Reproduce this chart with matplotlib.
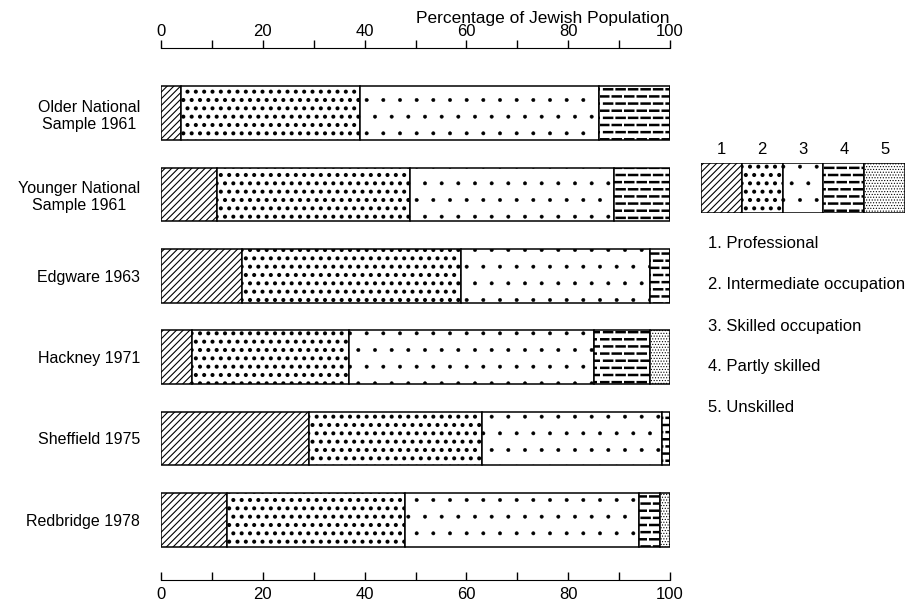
import numpy as np
import matplotlib
matplotlib.use('Agg')
import matplotlib.pyplot as plt
from matplotlib import hatch as mhatch
from matplotlib.path import Path

plt.rcParams['font.family'] = ['Liberation Sans', 'DejaVu Sans']

# data (percent of each sample)
samples = ['Older National\nSample 1961', 'Younger National\nSample 1961', 'Edgware 1963',
           'Hackney 1971', 'Sheffield 1975', 'Redbridge 1978']
classes = ['Professional', 'Intermediate occupation', 'Skilled occupation',
           'Partly skilled', 'Unskilled']
professional = [4, 11, 16, 6, 29, 13]
intermediate = [35, 38, 43, 31, 34, 35]
skilled = [47, 40, 37, 48, 35.5, 46]
partly_skilled = [14, 11, 4, 11, 1.5, 4]
unskilled = [0, 0, 0, 4, 0, 2]
series = [professional, intermediate, skilled, partly_skilled, unskilled]

hatches = ['/////', '..', '.', '--', '......']
hatch_widths = [0.8, 1.7, 0.35, 1.8, 0.5]


class DashedHorizontal(mhatch.HatchPatternBase):
    # rows of short dashes instead of solid horizontal lines
    def __init__(self, hatch, density):
        self.num_rows = int((hatch.count('-') + hatch.count('+')) * density * 1.2)
        self.num_dashes = 8
        self.num_vertices = self.num_rows * self.num_dashes * 2

    def set_vertices_and_codes(self, vertices, codes):
        step = 1.0 / self.num_dashes
        k = 0
        for r in range(self.num_rows):
            yy = (r + 0.5) / self.num_rows
            shift = 0.33 * step if r % 2 else 0.02 * step
            for d in range(self.num_dashes):
                x0 = d * step + shift
                vertices[k] = (x0, yy)
                vertices[k + 1] = (x0 + 0.64 * step, yy)
                codes[k] = Path.MOVETO
                codes[k + 1] = Path.LINETO
                k += 2


mhatch._hatch_types[mhatch._hatch_types.index(mhatch.HorizontalHatch)] = DashedHorizontal


def style_bars(bars, hatch_lw):
    for b in bars:
        if hasattr(b, 'set_hatch_linewidth'):
            b.set_hatch_linewidth(hatch_lw)


fig = plt.figure(figsize=(9.1, 6.06), dpi=100)
ax = fig.add_axes([161 / 910, 26 / 606, 509 / 910, 532 / 606])

y = np.arange(len(samples))
left = np.zeros(len(samples))
for values, hatch, hlw in zip(series, hatches, hatch_widths):
    values = np.array(values, dtype=float)
    bars = ax.barh(y, values, left=left, height=0.66, color='white',
                   edgecolor='black', linewidth=1.1, hatch=hatch)
    style_bars(bars, hlw)
    left += values

ax.set_xlim(0, 100)
ax.set_ylim(5.74, -0.80)
ax.set_yticks(y)
ax.set_yticklabels(samples, fontsize=11.5, ha='right', multialignment='center')
ax.tick_params(axis='y', length=0, pad=15)

ax.set_xticks(range(0, 101, 20))
ax.set_xticks(range(10, 100, 20), minor=True)
ax.tick_params(axis='x', which='both', direction='in', length=6, width=1,
               labelsize=12, pad=5)
for side in ['left', 'right', 'top']:
    ax.spines[side].set_visible(False)

top = ax.secondary_xaxis('top')
top.set_xticks(range(0, 101, 20))
top.set_xticks(range(10, 100, 20), minor=True)
top.tick_params(which='both', direction='out', length=5.5, width=1, labelsize=12, pad=1)
top.set_xlabel('Percentage of Jewish Population', loc='right', fontsize=12.5, labelpad=1)

# key boxes on the right
key = fig.add_axes([701 / 910, 1 - 213 / 606, 204 / 910, 50 / 606])
for i, (hatch, hlw) in enumerate(zip(hatches, hatch_widths)):
    b = key.bar(i, 1, width=1, align='edge', color='white', edgecolor='black',
                linewidth=1.1, hatch=hatch)
    style_bars(b, hlw)
    key.text(i + 0.5, 1.12, str(i + 1), ha='center', va='bottom', fontsize=12)
key.set_xlim(0, 5)
key.set_ylim(0, 1)
key.axis('off')

for i, name in enumerate(classes):
    fig.text(708 / 910, 1 - (244 + 41 * i) / 606, f'{i + 1}. {name}',
             va='center', fontsize=12)

fig.savefig('out.png', dpi=100)
